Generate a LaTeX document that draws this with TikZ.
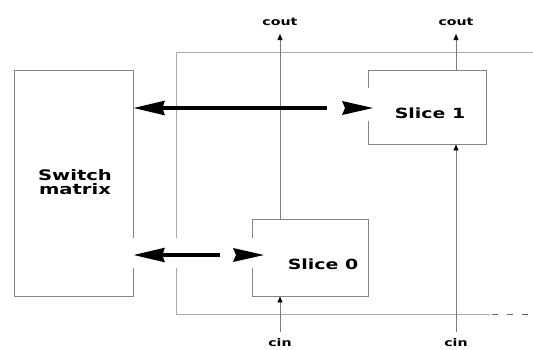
\documentclass[tikz,border=0pt]{standalone}
\usepackage{fontspec}
\usepackage{graphicx}
\setmainfont{DejaVu Sans}
\usetikzlibrary{arrows.meta,calc}
\newcommand\widetext[1]{\scalebox{1.35}[1]{#1}}
\begin{document}
\begin{tikzpicture}[x=1pt,y=-1pt,
  boxline/.style={draw=black!48,line width=0.9pt,inner sep=0pt},
  outerline/.style={draw=black!33,line width=0.9pt},
  thinarrow/.style={draw=black!52,line width=0.9pt,arrows={-{Triangle[length=6pt,width=5pt,fill=black,color=black]}}},
  bigarrow/.style={line width=3.4pt,black,-{Stealth[length=31pt,width=14pt,inset=2pt]}},
  lbl/.style={font=\bfseries\fontsize{10.5}{12}\selectfont,inner sep=0pt,anchor=base},
  slicetext/.style={font=\bfseries\fontsize{14}{16}\selectfont,inner sep=0pt},
  swtext/.style={font=\bfseries\fontsize{14.5}{15.5}\selectfont,inner sep=0pt,align=center}]
\useasboundingbox (0,0) rectangle (533,349);
% outer CLB frame
\draw[outerline] (533,52) -- (176,52) -- (176,314) -- (490,314);
\draw[outerline,draw=black!60,dash pattern=on 6pt off 9pt] (492,314) -- (533,314);
% boxes
\node[boxline,minimum width=119pt,minimum height=226pt] (sm) at (73.5,183) {};
\node[boxline,minimum width=118pt,minimum height=74pt] (s1) at (427,107) {};
\node[boxline,minimum width=116pt,minimum height=77pt] (s0) at (310,257.5) {};
% labels
\node[swtext] (smt) at (75,182) {\widetext{Switch}\\[-1pt]\widetext{matrix}};
\node[slicetext] (s1t) at (430,113.5) {\widetext{Slice 1}};
\node[slicetext] (s0t) at (323,264.5) {\widetext{Slice 0}};
\node[lbl] (co0) at (280,25.5) {\widetext{cout}};
\node[lbl] (co1) at (456,25.5) {\widetext{cout}};
\node[lbl] (ci0) at (280,346.5) {\widetext{cin}};
\node[lbl] (ci1) at (456,346.5) {\widetext{cin}};
% coordinates
\coordinate (c0top) at (280,34);
\coordinate (c1top) at (456,34);
\coordinate (c0bot) at (280,332);
\coordinate (c1bot) at (456,332);
% carry lines
\draw[thinarrow] (s0.north -| co0) -- (c0top);
\draw[thinarrow] (s1.north -| co1) -- (c1top);
\draw[thinarrow] (c0bot) -- (s0.south -| ci0);
\draw[thinarrow] (c1bot) -- (s1.south -| ci1);
% gaps where the arrows cross the frames
\fill[white] (126,238) rectangle (262,268);
\fill[white] (360,88) rectangle (376,121);
% upper arrow pair
\coordinate (ushaft) at (327,108);
\draw[bigarrow] (ushaft) -- (sm.east |- ushaft);
\fill[black] (342,101) -- (373,108) -- (342,115) -- (345,108) -- cycle;
% lower arrow pair
\coordinate (lshaft) at (220,255);
\draw[bigarrow,line width=3.1pt] (lshaft) -- (sm.east |- lshaft);
\fill[black] (233,248) -- (264,255) -- (233,262) -- (236,255) -- cycle;
\end{tikzpicture}
\end{document}
